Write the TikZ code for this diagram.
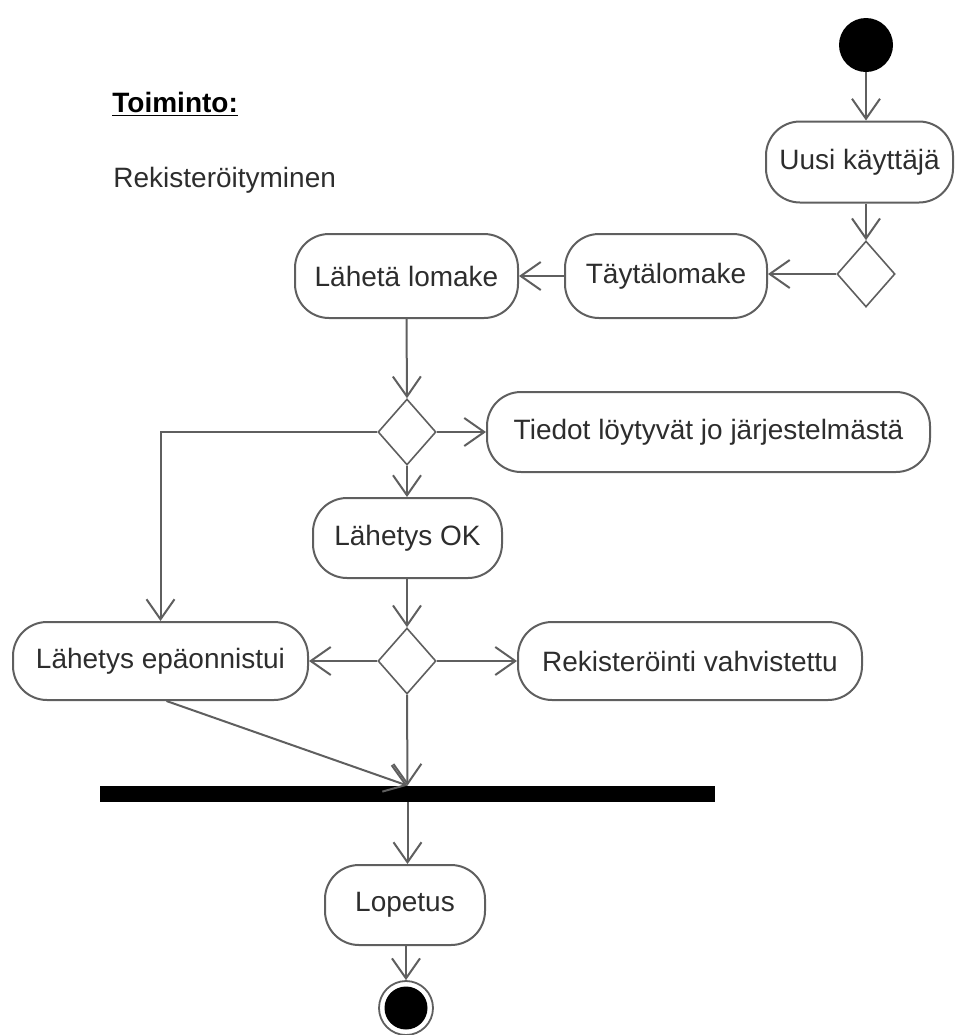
\documentclass[tikz,border=0pt]{standalone}
\usepackage{fontspec}
\setmainfont{Liberation Sans}
\usetikzlibrary{shapes.geometric,arrows.meta}
\definecolor{linec}{RGB}{95,95,95}
\definecolor{txtc}{RGB}{45,45,45}
\newcommand{\nodefont}{\fontsize{14}{16}\selectfont}
\tikzset{
  act/.style={draw=linec, line width=1pt, rounded corners=17pt,
    inner sep=0pt, font=\nodefont, text=txtc},
  decision/.style={draw=linec, line width=0.8pt, diamond,
    minimum width=29pt, minimum height=33pt, inner sep=0pt},
  arr/.style={draw=linec, line width=1pt,
    -{Straight Barb[length=10pt,width=14pt]}},
}
\begin{document}
\begin{tikzpicture}[x=0.5pt,y=-0.5pt]
\useasboundingbox (0,0) rectangle (957,1035);

% heading
\node[anchor=base west, font=\nodefont\bfseries, text=black, inner sep=0pt]
  (title) at (112,112) {\underline{Toiminto:}};
\node[anchor=base west, font=\nodefont, text=txtc, inner sep=0pt]
  (name) at (113,187) {Rekisteröityminen};

% start
\node[circle, fill=black, minimum size=27pt, inner sep=0pt] (start) at (866,45) {};

% activities
\node[act, minimum width=93.5pt, minimum height=40.5pt] (uusi)   at (859.5,162) {Uusi käyttäjä};
\node[decision] (d1) at (866,274) {};
\node[act, minimum width=101pt, minimum height=42pt]    (tayta)  at (666,276) {Täytälomake};
\node[act, minimum width=111.5pt, minimum height=42pt]  (laheta) at (406.5,276) {Lähetä lomake};
\node[decision] (d2) at (407,432) {};
\node[act, minimum width=221.5pt, minimum height=40pt]  (tiedot) at (708.5,432) {Tiedot löytyvät jo järjestelmästä};
\node[act, minimum width=94.5pt, minimum height=40pt]   (ok)     at (407.5,538) {Lähetys OK};
\node[decision] (d3) at (407,661) {};
\node[act, minimum width=147.5pt, minimum height=39pt]  (ep)     at (160.5,661) {Lähetys epäonnistui};
\node[act, minimum width=172pt, minimum height=39pt]    (rek)    at (690,661) {Rekisteröinti vahvistettu};

% join bar
\node[fill=black, minimum width=307.5pt, minimum height=8pt, inner sep=0pt] (bar) at (407.5,794) {};

\node[act, minimum width=80pt, minimum height=40pt]     (lop)    at (405,905) {Lopetus};

% final node
\node[circle, draw=linec, line width=0.9pt, minimum size=27pt, inner sep=0pt] (endring) at (406,1008) {};
\node[circle, fill=black, minimum size=21.5pt, inner sep=0pt] (enddot) at (406,1008) {};

% flows
\draw[arr] (start) -- (start |- uusi.north);
\draw[arr] (d1 |- uusi.south) -- (d1.north);
\draw[arr] (d1.west) -- (tayta.east |- d1.west);
\draw[arr] (tayta.west) -- (laheta.east);
\draw[arr] (laheta.south) -- (d2.north);
\draw[arr] (d2.east) -- (tiedot.west);
\draw[arr] (d2.south) -- (ok.north -| d2.south);
\draw[arr] (d2.west) -| (ep.north);
\draw[arr] (d3 |- ok.south) -- (d3.north);
\draw[arr] (d3.west) -- (ep.east);
\draw[arr] (d3.east) -- (rek.west);
\draw[arr] (d3.south) -- (bar.north);
\draw[arr] ([xshift=3pt]ep.south) -- (bar.north);
\draw[arr] (bar.south) -- (bar.south |- lop.north);
\draw[arr] (lop.south -| endring.north) -- (endring.north);
\end{tikzpicture}
\end{document}
